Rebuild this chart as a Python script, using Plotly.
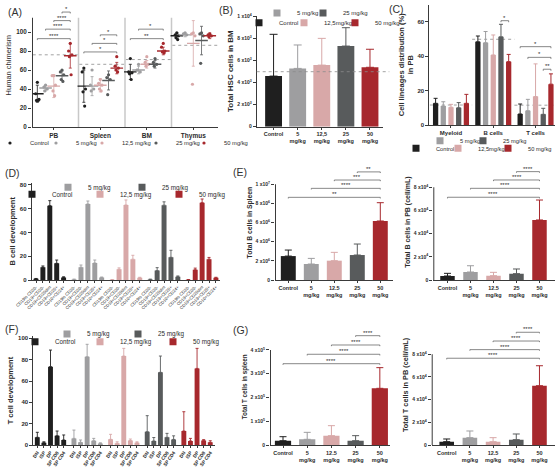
import plotly.graph_objects as go

W, H = 560, 474
AX = "#3a3a3a"
TXT = "#2b2b2b"
FONT = "Arial, Liberation Sans, sans-serif"

DOSES = ["Control", "5 mg/kg", "12,5 mg/kg", "25 mg/kg", "50 mg/kg"]
DOSES_TIGHT = ["Control", "5 mg/kg", "12,5mg/kg", "25 mg/kg", "50 mg/kg"]
COLORS = ["#1f1f1f", "#9e9ea0", "#d8a8a8", "#585b5c", "#a7282d"]
TICKS_B = ["Control", "5<br>mg/kg", "12,5<br>mg/kg", "25<br>mg/kg", "50<br>mg/kg"]
TICKS_EG = ["Control", "5<br>mg/kg", "12.5<br>mg/kg", "25<br>mg/kg", "50<br>mg/kg"]

# ---------------- (A) human chimerism ----------------
A_tissues = ["PB", "Spleen", "BM", "Thymus"]
A_pts_ctrl = [[47, 35, 29, 28, 28], [62, 58, 40, 37, 22], [72, 58, 57, 56, 50], [99, 97, 96, 94, 92]]
A_pts_5 = [[44, 42, 40, 38], [60, 44, 40, 38], [66, 60, 58, 60], [99, 98, 97]]
A_pts_12 = [[54, 54, 44, 38, 33], [50, 46, 44, 40, 38], [74, 68, 66, 64], [99, 98, 96, 45]]
A_pts_25 = [[60, 58, 55, 50, 48], [55, 52, 50, 34], [72, 68, 66, 64], [99, 98, 96, 67]]
A_pts_50 = [[88, 80, 76, 74, 55], [74, 64, 62, 60, 58], [88, 84, 80, 79, 78], [98, 97, 96, 95]]
A_mean_ctrl = [35, 43, 58, 96]
A_mean_5 = [41, 43, 60, 97]
A_mean_12 = [43, 44, 66, 88]
A_mean_25 = [54, 49, 66, 91]
A_mean_50 = [75, 62, 80, 96]
A_sd_ctrl = [9, 17, 8, 3]
A_sd_5 = [3, 10, 4, 2]
A_sd_12 = [12, 7, 4, 24]
A_sd_25 = [5, 10, 4, 15]
A_sd_50 = [13, 6, 4, 3]
A_ref = [76, 66, 71, 86]
A_sig = [(0, 0, 4, 93, "****"), (0, 1, 4, 103, "****"), (0, 2, 4, 112, "****"), (0, 3, 4, 121, "*"),
         (1, 0, 4, 79, "*"), (1, 1, 4, 88, "*"), (1, 2, 4, 97, "*"),
         (2, 0, 4, 93, "**"), (2, 1, 4, 103, "*")]

# ---------------- (B) HSC in BM ----------------
B_mean = [4600, 5300, 5600, 7330, 5400]
B_sd = [3800, 2130, 2430, 1670, 1640]
B_ref = 5000

# ---------------- (C) lineages in PB ----------------
C_groups = ["Myeloid", "B cells", "T cells"]
C_mean_ctrl = [12.6, 48.3, 6.4]
C_mean_5 = [11.0, 47.8, 8.3]
C_mean_12 = [10.3, 40.7, 16.5]
C_mean_25 = [10.0, 51.2, 6.2]
C_mean_50 = [12.6, 36.8, 23.7]
C_sd_ctrl = [2.9, 3.4, 5.8]
C_sd_5 = [2.5, 6.5, 6.6]
C_sd_12 = [1.7, 11.6, 19.0]
C_sd_25 = [3.0, 7.3, 3.5]
C_sd_50 = [5.2, 4.2, 6.0]
C_ref = [11.6, 49.8, 11.5]
C_sig = [(1, 3, 4, 60.6, "*"), (2, 0, 4, 45.5, "*"), (2, 1, 4, 39.3, "*"), (2, 3, 4, 32.4, "**")]

# ---------------- (D) B cell development ----------------
D_stages = ["CD19lo CD20-", "CD19+CD20-", "CD19+CD20dim", "CD19+CD20+", "CD10+CD24+"]
D_mean_ctrl = [1.0, 10.7, 62.6, 14.0, 2.0]
D_mean_5 = [0.5, 10.7, 64.0, 14.3, 2.0]
D_mean_12 = [0.3, 9.0, 63.2, 17.5, 1.8]
D_mean_25 = [0.5, 7.9, 63.0, 19.1, 2.8]
D_mean_50 = [0.3, 8.6, 65.1, 17.5, 1.8]
D_sd_ctrl = [0.3, 1.1, 4.2, 2.8, 0.7]
D_sd_5 = [0.2, 1.9, 2.5, 2.5, 0.5]
D_sd_12 = [0.1, 1.2, 4.2, 3.3, 0.5]
D_sd_25 = [0.2, 2.5, 2.8, 5.9, 0.6]
D_sd_50 = [0.1, 1.4, 3.1, 1.5, 0.5]

# ---------------- (E) total B cells ----------------
E_spl_mean = [2.5e6, 1.67e6, 2.02e6, 2.61e6, 6.17e6]
E_spl_sd = [0.63e6, 0.59e6, 0.87e6, 1.15e6, 1.91e6]
E_spl_sig = [(3, 4, 1.13e7, "**"), (2, 4, 1.045e7, "***"), (1, 4, 9.58e6, "****"), (0, 4, 8.64e6, "**")]
E_pb_mean = [3450, 6900, 3740, 5460, 51800]
E_pb_sd = [2300, 5400, 2880, 4040, 17200]
E_pb_sig = [(3, 4, 93500, "****"), (2, 4, 86300, "****"), (1, 4, 79100, "****"), (0, 4, 71400, "****")]

# ---------------- (F) T cell development ----------------
F_stages = ["DN", "ISP", "DP", "SP CD8", "SP CD4"]
F_mean_ctrl = [7.2, 2.2, 73.4, 8.7, 4.7]
F_mean_5 = [6.2, 2.5, 82.8, 4.0, 1.5]
F_mean_12 = [5.3, 1.6, 83.4, 4.2, 2.2]
F_mean_25 = [12.5, 3.8, 68.1, 7.2, 5.2]
F_mean_50 = [13.1, 3.8, 71.8, 4.3, 2.5]
F_sd_ctrl = [4.7, 0.8, 15.6, 4.4, 4.7]
F_sd_5 = [7.8, 2.2, 11.6, 2.2, 0.5]
F_sd_12 = [4.7, 1.4, 7.2, 1.4, 0.8]
F_sd_25 = [15.0, 3.2, 15.3, 3.7, 3.4]
F_sd_50 = [18.1, 2.4, 18.8, 0.7, 1.5]

# ---------------- (G) total T cells ----------------
G_spl_mean = [18100, 23900, 39300, 18100, 238600]
G_spl_sd = [16900, 29400, 42100, 21200, 87000]
G_spl_sig = [(3, 4, 460200, "****"), (2, 4, 421000, "****"), (1, 4, 381900, "****"), (0, 4, 342300, "****")]
G_pb_mean = [2940, 6470, 2940, 4700, 52300]
G_pb_sd = [2350, 5880, 3530, 5000, 17600]
G_pb_sig = [(3, 4, 99400, "****"), (2, 4, 91700, "****"), (1, 4, 84100, "****"), (0, 4, 76500, "****")]

A_pts = [A_pts_ctrl, A_pts_5, A_pts_12, A_pts_25, A_pts_50]
A_mean = [A_mean_ctrl, A_mean_5, A_mean_12, A_mean_25, A_mean_50]
A_sd = [A_sd_ctrl, A_sd_5, A_sd_12, A_sd_25, A_sd_50]
C_mean = [C_mean_ctrl, C_mean_5, C_mean_12, C_mean_25, C_mean_50]
C_sd = [C_sd_ctrl, C_sd_5, C_sd_12, C_sd_25, C_sd_50]
D_mean = [D_mean_ctrl, D_mean_5, D_mean_12, D_mean_25, D_mean_50]
D_sd = [D_sd_ctrl, D_sd_5, D_sd_12, D_sd_25, D_sd_50]
F_mean = [F_mean_ctrl, F_mean_5, F_mean_12, F_mean_25, F_mean_50]
F_sd = [F_sd_ctrl, F_sd_5, F_sd_12, F_sd_25, F_sd_50]


def xd(a, b):
    return [a / W, b / W]


def yd(top, bottom):
    return [1 - bottom / H, 1 - top / H]


fig = go.Figure()
shapes = []
annotations = []
legends = {}
leg_count = [0]


def new_legend(text_x, y, fs):
    # label starts ~30 px right of the legend's left edge (symbol ~10 px) with indentation -10
    leg_count[0] += 1
    lid = "legend" if leg_count[0] == 1 else "legend%d" % leg_count[0]
    legends[lid] = dict(x=max(text_x - 30, 0) / W, y=1 - y / H, xanchor="left", yanchor="middle",
                        orientation="h", bgcolor="rgba(0,0,0,0)", borderwidth=0, indentation=-10,
                        font=dict(size=fs, color=TXT, family=FONT), itemclick=False,
                        itemdoubleclick=False)
    return lid


def legend_proxy(d, names, lid, xa, ya):
    fig.add_trace(go.Scatter(x=[None], y=[None], mode="markers",
                             marker=dict(symbol="square", size=7, color=COLORS[d]),
                             name=names[d], legend=lid, showlegend=True, hoverinfo="skip",
                             xaxis=xa, yaxis=ya))


def add_sig(xa, ya, sigs_xy, drop, fs=6):
    xs, ys = [], []
    for (x0, x1, y, lab) in sigs_xy:
        xs += [x0, x0, x1, x1, None]
        ys += [y - drop, y, y, y - drop, None]
        annotations.append(dict(x=(x0 + x1) / 2, y=y, xref=xa, yref=ya, text=lab, showarrow=False,
                                yanchor="bottom", yshift=-2, font=dict(size=fs, color=TXT, family=FONT)))
    fig.add_trace(go.Scatter(x=xs, y=ys, mode="lines", line=dict(color="#555555", width=0.7),
                             xaxis=xa, yaxis=ya, showlegend=False, hoverinfo="skip"))


def yline(xa, ya, x, top):
    shapes.append(dict(type="line", xref=xa, yref=ya, x0=x, x1=x, y0=0, y1=top,
                       line=dict(color=AX, width=2)))


def dotted(xa, ya, x0, x1, y):
    shapes.append(dict(type="line", xref=xa, yref=ya, x0=x0, x1=x1, y0=y, y1=y, layer="below",
                       line=dict(color="#8a8a8a", width=0.8, dash="dot")))


# ---- A traces
A_SEC, A_OFF, A_STEP = 6.1, 0.7, 1.08
A_JIT = [0.0, -0.22, 0.22, -0.11, 0.11]


def a_x(g, d):
    return g * A_SEC + A_OFF + d * A_STEP


A_leg = [(30, 143), (76, 143), (122, 143), (176, 143), (224, 143)]
for d in range(5):
    xs, ys = [], []
    for g in range(4):
        for i, v in enumerate(A_pts[d][g]):
            xs.append(a_x(g, d) + A_JIT[i % 5])
            ys.append(v)
    lid = new_legend(A_leg[d][0], A_leg[d][1], 5.8)
    fig.add_trace(go.Scatter(x=xs, y=ys, mode="markers", marker=dict(size=3.2, color=COLORS[d]),
                             name=DOSES[d], legend=lid, xaxis="x", yaxis="y"))
    fig.add_trace(go.Scatter(x=[a_x(g, d) for g in range(4)], y=A_mean[d], mode="markers",
                             marker=dict(symbol="line-ew", size=9, line=dict(width=1.4, color=COLORS[d])),
                             error_y=dict(type="data", array=A_sd[d], thickness=0.8, width=1.5, color=COLORS[d]),
                             showlegend=False, hoverinfo="skip", xaxis="x", yaxis="y"))
for g in range(4):
    dotted("x", "y", g * A_SEC + 0.1, g * A_SEC + 6.0, A_ref[g])
for g in range(1, 4):
    shapes.append(dict(type="line", xref="x", yref="y", x0=g * A_SEC, x1=g * A_SEC, y0=0, y1=115,
                       layer="below", line=dict(color="#c8c8c8", width=1.5)))
add_sig("x", "y", [(a_x(g, a), a_x(g, b), y, lab) for (g, a, b, y, lab) in A_sig], 1.5)
yline("x", "y", 0, 115)


# ---- single-bar panels
def single_bars(xa, ya, means, sds, width, cap):
    for d in range(5):
        fig.add_trace(go.Bar(x=[d], y=[means[d]], width=width, marker=dict(color=COLORS[d], line=dict(width=0)),
                             error_y=dict(type="data", array=[sds[d]], arrayminus=[0], symmetric=False,
                                          color=COLORS[d], thickness=1, width=cap),
                             xaxis=xa, yaxis=ya, showlegend=False, name=DOSES[d]))


single_bars("x2", "y2", B_mean, B_sd, 0.7, 4)
shapes.append(dict(type="line", xref="x2 domain", yref="y2", x0=0, x1=1.05, y0=B_ref, y1=B_ref,
                   line=dict(color="#8a8a8a", width=0.8, dash="dot")))
B_leg = [(1, 297, 13), (3, 343, 13), (0, 279, 22.7), (2, 324, 22.7), (4, 375, 22.7)]
for d, tx, ty in B_leg:
    legend_proxy(d, DOSES_TIGHT, new_legend(tx, ty, 6), "x2", "y2")

# ---- C grouped bars
C_STEP, C_W = 0.182, 0.125


def c_x(g, d):
    return g + (d - 2) * C_STEP


for d in range(5):
    fig.add_trace(go.Bar(x=[c_x(g, d) for g in range(3)], y=C_mean[d], width=C_W,
                         marker=dict(color=COLORS[d], line=dict(width=0)),
                         error_y=dict(type="data", array=C_sd[d], arrayminus=[0, 0, 0], symmetric=False,
                                      color=COLORS[d], thickness=1, width=2),
                         xaxis="x3", yaxis="y3", showlegend=False, name=DOSES[d]))
for g in range(3):
    dotted("x3", "y3", g - 0.5, g + 0.5, C_ref[g])
add_sig("x3", "y3", [(c_x(g, a), c_x(g, b), y, lab) for (g, a, b, y, lab) in C_sig], 0.9)
C_leg = [(1, 460, 140.7), (3, 503, 140.7), (0, 436, 148.3), (2, 478, 148.3), (4, 528, 148.3)]
for d, tx, ty in C_leg:
    legend_proxy(d, DOSES_TIGHT, new_legend(tx, ty, 5.7), "x3", "y3")

# ---- D stage bars
D_GRP = 5.52


def stage_bars(xa, ya, means, sds, grp, width):
    for d in range(5):
        fig.add_trace(go.Bar(x=[d * grp + j for j in range(5)], y=means[d], width=width,
                             marker=dict(color=COLORS[d], line=dict(width=0)),
                             error_y=dict(type="data", array=sds[d], arrayminus=[0] * 5, symmetric=False,
                                          color=COLORS[d], thickness=0.9, width=1.5),
                             xaxis=xa, yaxis=ya, showlegend=False, name=DOSES[d]))


stage_bars("x4", "y4", D_mean, D_sd, D_GRP, 0.72)
D_leg = [(1, 88, 187.3), (3, 162, 187.3), (0, 52, 194.3), (2, 120, 194.3), (4, 199, 194.3)]
for d, tx, ty in D_leg:
    legend_proxy(d, DOSES, new_legend(tx, ty, 6.3), "x4", "y4")

# ---- E
single_bars("x5", "y5", E_spl_mean, E_spl_sd, 0.65, 3.5)
add_sig("x5", "y5", [(a, b, y, lab) for (a, b, y, lab) in E_spl_sig], 1.2e5)
yline("x5", "y5", -0.578, 1e7)
single_bars("x6", "y6", E_pb_mean, E_pb_sd, 0.63, 3.5)
add_sig("x6", "y6", [(a, b, y, lab) for (a, b, y, lab) in E_pb_sig], 1.0e3)
yline("x6", "y6", -0.617, 8e4)

# ---- F
F_GRP = 5.55
stage_bars("x7", "y7", F_mean, F_sd, F_GRP, 0.74)
F_leg = [(1, 87, 334), (3, 158, 334), (0, 55, 341.7), (2, 120, 341.7), (4, 193, 341.7)]
for d, tx, ty in F_leg:
    legend_proxy(d, DOSES, new_legend(tx, ty, 6.3), "x7", "y7")

# ---- G
single_bars("x8", "y8", G_spl_mean, G_spl_sd, 0.67, 3.5)
add_sig("x8", "y8", [(a, b, y, lab) for (a, b, y, lab) in G_spl_sig], 5e3)
yline("x8", "y8", -0.537, 4e5)
single_bars("x9", "y9", G_pb_mean, G_pb_sd, 0.63, 3.5)
add_sig("x9", "y9", [(a, b, y, lab) for (a, b, y, lab) in G_pb_sig], 1.0e3)
yline("x9", "y9", -0.647, 8e4)


# ---------------- axes ----------------
def xaxis(dom, rng, anchor, vals, text, fs, angle=0, bold=True):
    return dict(domain=xd(*dom), range=rng, anchor=anchor, tickmode="array", tickvals=vals, ticktext=text,
                tickangle=angle, showline=True, linecolor=AX, linewidth=1, ticks="outside", ticklen=2,
                tickwidth=1, tickcolor=AX, showgrid=False, zeroline=False,
                tickfont=dict(size=fs, color=TXT, family=FONT, weight="bold" if bold else "normal"))


def yaxis(dom, rng, anchor, vals, text, fs, title, tfs, standoff, line=True, bold_title=True):
    return dict(domain=yd(*dom), range=rng, anchor=anchor, tickmode="array", tickvals=vals, ticktext=text,
                showline=line, linecolor=AX, linewidth=1, ticks="outside", ticklen=3, tickwidth=1,
                tickcolor=AX, showgrid=False, zeroline=False,
                tickfont=dict(size=fs, color=TXT, family=FONT, weight="bold"),
                title=dict(text=title, standoff=standoff,
                           font=dict(size=tfs, color=TXT, family=FONT,
                                     weight="bold" if bold_title else "normal")))


def sci(vals, exps):
    out = []
    for v in vals:
        if v == 0:
            out.append("0")
        else:
            for e in exps:
                m = v / 10 ** e
                if 1 <= m < 10:
                    out.append("%d x10<sup>%d</sup>" % (round(m), e))
                    break
    return out


B_ticks = [0, 2000, 4000, 6000, 8000, 10000]
E_spl_ticks = [0, 2e6, 4e6, 6e6, 8e6, 1e7]
E_pb_ticks = [0, 2e4, 4e4, 6e4, 8e4]
G_spl_ticks = [0, 1e5, 2e5, 3e5, 4e5]
G_pb_ticks = [0, 2e4, 4e4, 6e4, 8e4]

layout_axes = dict(
    xaxis=xaxis((32, 218), [0, 24.4], "y", [g * A_SEC + A_OFF + 2 * A_STEP for g in range(4)], A_tissues, 6.5),
    yaxis=yaxis((3.5, 127), [0, 130], "x", [0, 20, 40, 60, 80, 100], ["0", "20", "40", "60", "80", "100"], 6.3,
                "Human chimerism", 7.5, 3, line=False, bold_title=False),
    xaxis2=xaxis((256.7, 383), [-0.7, 4.54], "y2", list(range(5)), TICKS_B, 5.5),
    yaxis2=yaxis((15.6, 126.7), [0, 10100], "x2", B_ticks, sci(B_ticks, [3, 4]), 5,
                 "Total HSC cells in BM", 8, 2),
    xaxis3=xaxis((429.3, 555), [-0.513, 2.46], "y3", [0, 1, 2], C_groups, 6),
    yaxis3=yaxis((4.5, 125), [0, 70], "x3", [0, 20, 40, 60], ["0", "20", "40", "60"], 6,
                 "Cell lineages distribution (%)<br>in PB", 7.5, 2),
    xaxis4=xaxis((31.7, 220), [-0.623, 26.67], "y4", [d * D_GRP + j for d in range(5) for j in range(5)],
                 D_stages * 5, 4.3, angle=-45, bold=False),
    yaxis4=yaxis((182.6, 280), [0, 82], "x4", [0, 20, 40, 60, 80], ["0", "20", "40", "60", "80"], 6,
                 "B cell development", 7.5, 3),
    xaxis5=xaxis((275, 393), [-0.578, 4.552], "y5", list(range(5)), TICKS_EG, 5.5),
    yaxis5=yaxis((165.2, 280), [0, 1.2e7], "x5", E_spl_ticks, sci(E_spl_ticks, [6, 7]), 5,
                 "Total B cells in Spleen", 6.8, 2, line=False),
    xaxis6=xaxis((433.3, 555), [-0.617, 4.674], "y6", list(range(5)), TICKS_EG, 5.5),
    yaxis6=yaxis((164.1, 280), [0, 1.0e5], "x6", E_pb_ticks, sci(E_pb_ticks, [4]), 5,
                 "Total B cells in PB (cell/mL)", 7, 2, line=False),
    xaxis7=xaxis((33.3, 215), [-0.606, 26.92], "y7", [d * F_GRP + j for d in range(5) for j in range(5)],
                 F_stages * 5, 4.8, angle=-55),
    yaxis7=yaxis((336.2, 445), [0, 102], "x7", [0, 20, 40, 60, 80, 100], ["0", "20", "40", "60", "80", "100"],
                 6, "T cell development", 7.5, 3),
    xaxis8=xaxis((270, 390), [-0.537, 4.42], "y8", list(range(5)), TICKS_EG, 5.5),
    yaxis8=yaxis((328.6, 445), [0, 4.9e5], "x8", G_spl_ticks, sci(G_spl_ticks, [5]), 5,
                 "Total T cells in spleen", 6.3, 2, line=False),
    xaxis9=xaxis((431.7, 555), [-0.647, 4.67], "y9", list(range(5)), TICKS_EG, 5.5),
    yaxis9=yaxis((324.8, 445), [0, 1.06e5], "x9", G_pb_ticks, sci(G_pb_ticks, [4]), 5,
                 "Total T cells in PB (cell/mL)", 7.3, 2, line=False),
)

for lab, px, py in [("(A)", 15, 12), ("(B)", 226, 10), ("(C)", 396, 9), ("(D)", 12, 173),
                    ("(E)", 240, 172), ("(F)", 11, 329), ("(G)", 240, 330)]:
    annotations.append(dict(x=px / W, y=1 - py / H, xref="paper", yref="paper", text=lab, showarrow=False,
                            xanchor="center", yanchor="middle", font=dict(size=10.5, color="#333333", family=FONT)))

fig.update_layout(
    width=W, height=H, margin=dict(l=0, r=0, t=0, b=0, pad=0, autoexpand=False),
    paper_bgcolor="white", plot_bgcolor="white", barmode="overlay",
    font=dict(family=FONT, color=TXT), showlegend=True,
    shapes=shapes, annotations=annotations, **layout_axes, **legends,
)

fig.write_html("out.html", config={"displayModeBar": False, "staticPlot": True},
               post_script="document.body.style.margin='0px';document.body.style.padding='0px';")
